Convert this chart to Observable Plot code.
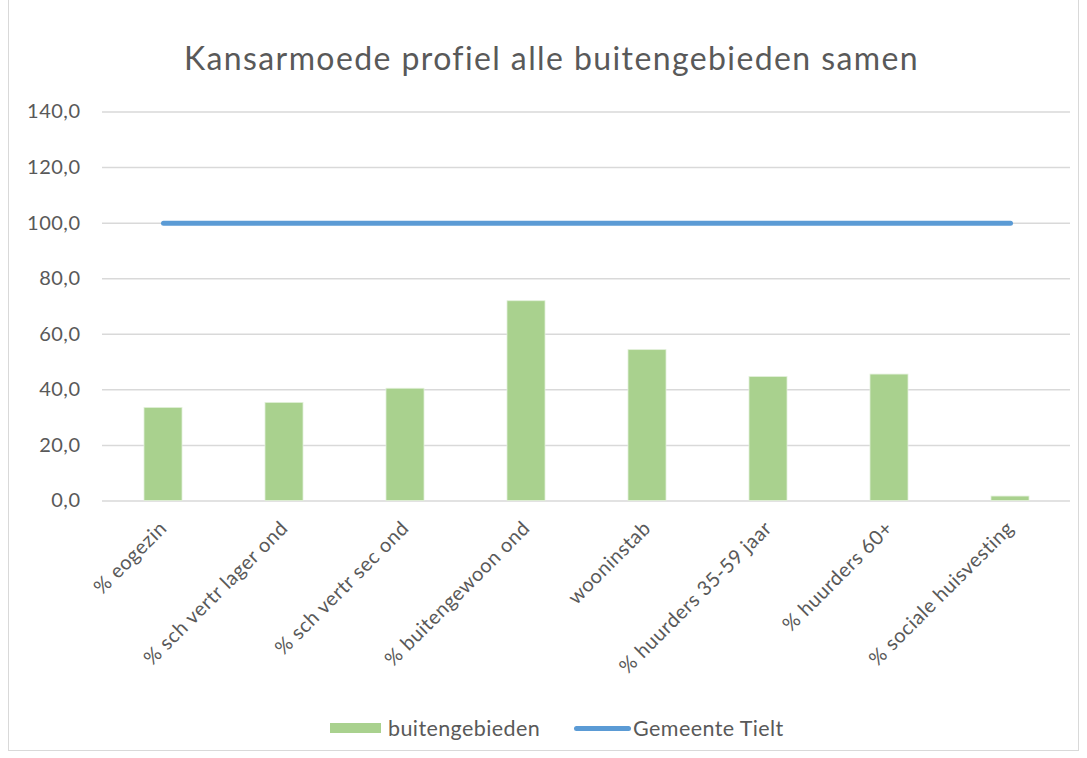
<!DOCTYPE html>
<html>
<head>
<meta charset="utf-8">
<script src="https://cdn.jsdelivr.net/npm/d3@7"></script>
<script src="https://cdn.jsdelivr.net/npm/@observablehq/plot@0.6"></script>
<style>
  html, body { margin: 0; padding: 0; background: #fff; }
  #frame { position: absolute; left: 8px; top: -1px; width: 1071px; height: 752px; border: 1px solid #D9D9D9; box-sizing: border-box; }
  #wrap { position: absolute; left: 0; top: 0; width: 1087px; height: 758px; font-family: Lato, "Open Sans", sans-serif; color: #595959; }
  #title { position: absolute; left: 8px; top: 38px; width: 1087px; text-align: center; font-size: 32px; line-height: 40px; letter-spacing: 1.4px; }
  #chart { position: absolute; left: 0; top: 95px; }
  #legend { position: absolute; left: 330px; top: 715px; display: flex; justify-content: flex-start; align-items: center; font-size: 21.5px; letter-spacing: 0.4px; }
  .sw { display: inline-block; }
  #chart svg text { letter-spacing: 0.5px; }
</style>
</head>
<body>
<div id="wrap">
  <div id="frame"></div>
  <div id="title">Kansarmoede profiel alle buitengebieden samen</div>
  <div id="chart"></div>
  <div id="legend">
    <span class="sw" style="width:51px;height:10px;background:#A9D18E;margin-right:7px"></span><span>buitengebieden</span>
    <span class="sw" style="width:57px;height:5px;background:#5B9BD5;border-radius:3px;margin-left:34px;margin-right:2px"></span><span>Gemeente Tielt</span>
  </div>
</div>
<script>
const categories = ["% eogezin", "% sch vertr lager ond", "% sch vertr sec ond", "% buitengewoon ond", "wooninstab", "% huurders 35-59 jaar", "% huurders 60+", "% sociale huisvesting"];
const buitengebieden = [33.5, 35.3, 40.4, 71.9, 54.3, 44.6, 45.5, 1.6];
const gemeenteTielt = [100, 100, 100, 100, 100, 100, 100, 100];
const yTicks = [0, 20, 40, 60, 80, 100, 120, 140];

const bars = categories.map((c, i) => ({cat: c, v: buitengebieden[i]}));
const line = categories.map((c, i) => ({cat: c, v: gemeenteTielt[i]}));

const chart = Plot.plot({
  width: 1087,
  height: 605,
  marginLeft: 102,
  marginRight: 17,
  marginTop: 16.5,
  marginBottom: 199.5,
  style: { fontFamily: "Lato, 'Open Sans', sans-serif", fontSize: "20px", color: "#595959", background: "transparent" },
  x: { domain: categories, paddingInner: 0.69, paddingOuter: 0.345, label: null },
  y: { domain: [0, 140], ticks: yTicks, label: null },
  marks: [
    Plot.gridY(yTicks, { stroke: "#D9D9D9", strokeOpacity: 1, strokeWidth: 1.5 }),
    Plot.barY(bars, { x: "cat", y: "v", fill: "#A9D18E", stroke: "#E2F0D9", strokeWidth: 0.8 }),
    Plot.line(line, { x: "cat", y: "v", stroke: "#5B9BD5", strokeWidth: 5, strokeLinecap: "round" }),
    Plot.axisY(yTicks, { tickSize: 0, tickPadding: 22, tickFormat: d => d.toFixed(1).replace(".", ","), fill: "#595959", fontSize: 20, label: null }),
    Plot.axisX({ tickSize: 0, tickPadding: 24, tickRotate: -45, fill: "#595959", fontSize: 20, label: null, dx: 0 })
  ]
});
document.getElementById("chart").appendChild(chart);
</script>
</body>
</html>
